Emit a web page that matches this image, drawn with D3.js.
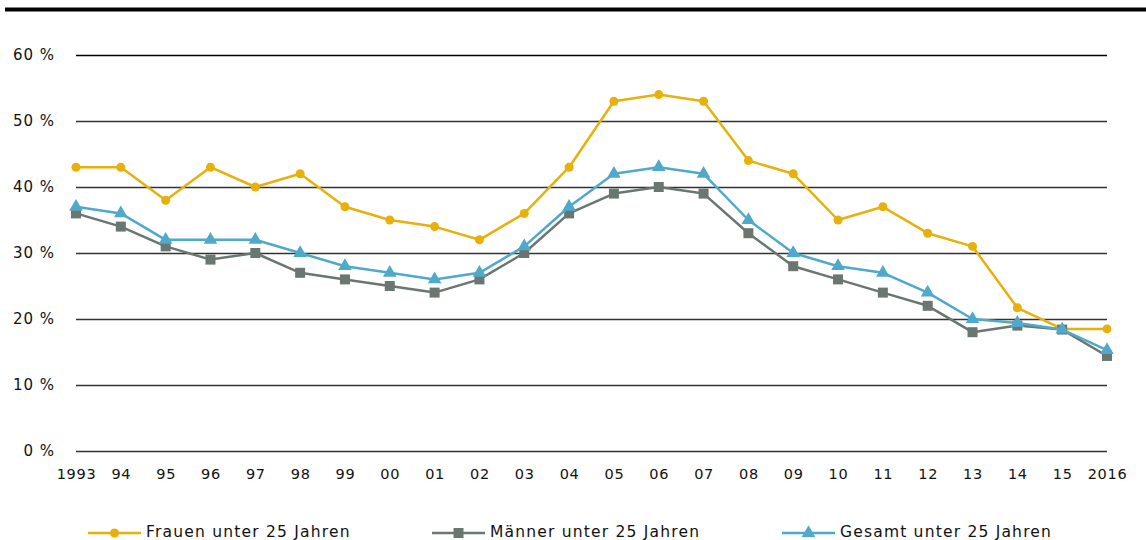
<!DOCTYPE html>
<html>
<head>
<meta charset="utf-8">
<script src="https://cdn.jsdelivr.net/npm/d3@7"></script>
<style>
  body { margin: 0; background: #fff; }
  svg { display: block; font-family: "DejaVu Sans", Verdana, sans-serif; }
</style>
</head>
<body>
<svg id="svg" width="1146" height="540"></svg>
<script>
"use strict";

const years = ["1993","94","95","96","97","98","99","00","01","02","03","04","05","06","07","08","09","10","11","12","13","14","15","2016"];
const yTicks = [0, 10, 20, 30, 40, 50, 60];

const frauen = [43, 43, 38, 43, 40, 42, 37, 35, 34, 32, 36, 43, 53, 54, 53, 44, 42, 35, 37, 33, 31, 21.7, 18.5, 18.5];
const maenner = [36, 34, 31, 29, 30, 27, 26, 25, 24, 26, 30, 36, 39, 40, 39, 33, 28, 26, 24, 22, 18, 19, 18.4, 14.4];
const gesamt = [37, 36, 32, 32, 32, 30, 28, 27, 26, 27, 31, 37, 42, 43, 42, 35, 30, 28, 27, 24, 20, 19.4, 18.4, 15.3];

const series = [
  { name: "Frauen unter 25 Jahren", values: frauen, color: "#e8b00a", symbol: d3.symbolCircle, size: 64, lx: 88 },
  { name: "Männer unter 25 Jahren", values: maenner, color: "#6a7770", symbol: d3.symbolSquare, size: 100, lx: 432 },
  { name: "Gesamt unter 25 Jahren", values: gesamt, color: "#4fa9cb", symbol: d3.symbolTriangle, size: 80, lx: 782 }
];

const svg = d3.select("#svg");

const x = d3.scalePoint()
  .domain(years)
  .range([76, 1107]);

const y = d3.scaleLinear()
  .domain([0, 60])
  .range([451, 55]);

// thick rule across the top
svg.append("line")
  .attr("x1", 5).attr("x2", 1146)
  .attr("y1", 9.5).attr("y2", 9.5)
  .attr("stroke", "#000")
  .attr("stroke-width", 4);

// gridlines and y labels
const yAxis = d3.axisLeft(y)
  .tickValues(yTicks)
  .tickSize(-(1107 - 76))
  .tickPadding(21)
  .tickFormat(d => d + " %");

const gY = svg.append("g")
  .attr("transform", "translate(76,0)")
  .call(yAxis);
gY.select(".domain").remove();
gY.selectAll(".tick line")
  .attr("stroke", (d, i) => d === 60 ? "#000" : "#333")
  .attr("stroke-width", 1.3);
gY.selectAll(".tick text")
  .attr("font-size", 15)
  .attr("fill", "#111")
  .attr("letter-spacing", 1)
  .attr("font-family", "DejaVu Sans, sans-serif");

// x labels
const xAxis = d3.axisBottom(x)
  .tickSize(0)
  .tickPadding(18);
const gX = svg.append("g")
  .attr("transform", "translate(0,451)")
  .call(xAxis);
gX.select(".domain").remove();
gX.selectAll(".tick text")
  .attr("font-size", 14.5)
  .attr("fill", "#111")
  .attr("letter-spacing", 0.7)
  .attr("font-family", "DejaVu Sans, sans-serif");

const line = d3.line()
  .x((d, i) => x(years[i]))
  .y(d => y(d));

series.forEach(s => {
  const g = svg.append("g");
  g.append("path")
    .datum(s.values)
    .attr("d", line)
    .attr("fill", "none")
    .attr("stroke", s.color)
    .attr("stroke-width", 2.5)
    .attr("stroke-linejoin", "round");

  g.selectAll("path.pt")
    .data(s.values)
    .enter()
    .append("path")
    .attr("class", "pt")
    .attr("d", d3.symbol().type(s.symbol).size(s.size))
    .attr("transform", (d, i) => "translate(" + x(years[i]) + "," + y(d) + ")")
    .attr("fill", s.color);

  // legend
  const lg = svg.append("g").attr("transform", "translate(" + s.lx + ",533)");
  lg.append("line")
    .attr("x1", 0).attr("x2", 53)
    .attr("stroke", s.color)
    .attr("stroke-width", 2.5);
  lg.append("path")
    .attr("d", d3.symbol().type(s.symbol).size(s.size))
    .attr("transform", "translate(26.5,0)")
    .attr("fill", s.color);
  lg.append("text")
    .attr("x", 58)
    .attr("y", 4)
    .attr("font-size", 15.5)
    .attr("fill", "#111")
    .attr("letter-spacing", 1.2)
    .text(s.name);
});
</script>
</body>
</html>
